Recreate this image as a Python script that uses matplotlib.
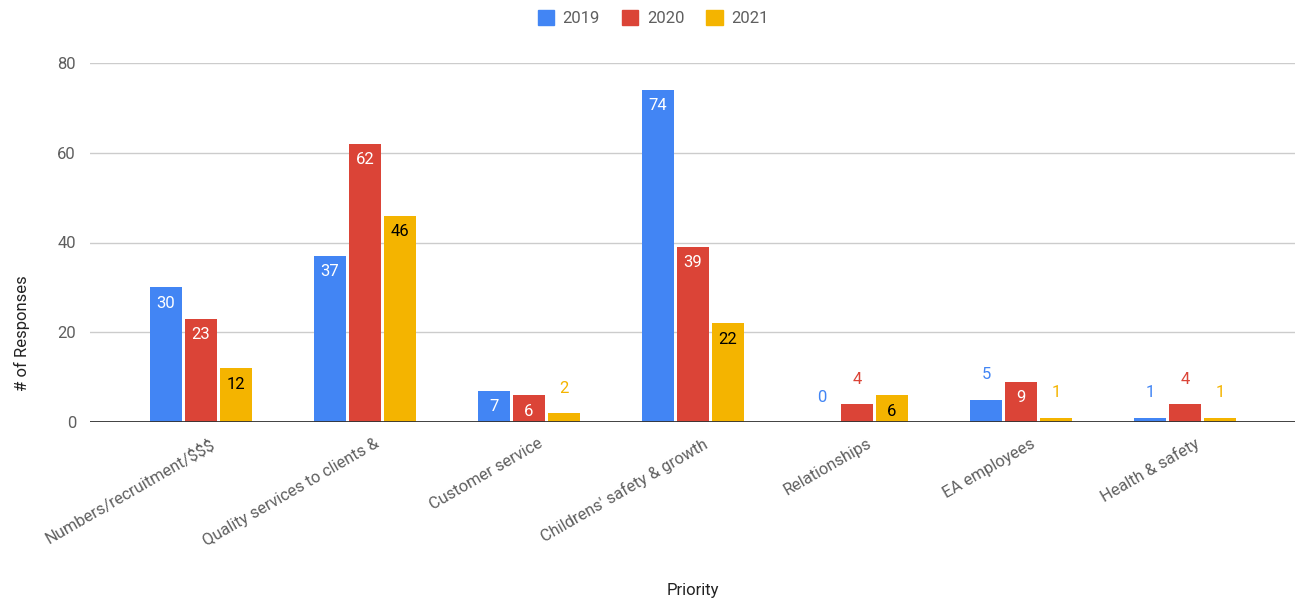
import matplotlib
matplotlib.use("Agg")
import matplotlib.pyplot as plt
import matplotlib.transforms as mtransforms
import numpy as np

categories = ["Numbers/recruitment/$$$", "Quality services to clients &", "Customer service",
              "Childrens' safety & growth", "Relationships", "EA employees", "Health & safety"]
series_names = ["2019", "2020", "2021"]
v2019 = [30, 37, 7, 74, 0, 5, 1]
v2020 = [23, 62, 6, 39, 4, 9, 4]
v2021 = [12, 46, 2, 22, 6, 1, 1]
yticks = [0, 20, 40, 60, 80]

colors = ["#4285f4", "#db4437", "#f4b400"]
inside_text = ["white", "white", "black"]

plt.rcParams['font.family'] = ['Roboto', 'DejaVu Sans']

fig = plt.figure(figsize=(13.01, 6.03), dpi=100)
W, H = 1301, 603
ax = fig.add_axes([90 / W, (H - 422) / H, (1295 - 90) / W, (422 - 63) / H])

x = np.arange(len(categories))
width = 0.195
offset = 0.213
for i, (vals, c) in enumerate(zip([v2019, v2020, v2021], colors)):
    pos = x + (i - 1) * offset
    bars = ax.bar(pos, vals, width, color=c, label=series_names[i], zorder=3)
    for b, v in zip(bars, vals):
        cx = b.get_x() + b.get_width() / 2
        if v >= 6:
            ax.annotate(str(v), (cx, v), xytext=(0, -11.5), textcoords="offset points",
                        ha="center", va="center", color=inside_text[i], fontsize=12, zorder=4)
        else:
            ax.annotate(str(v), (cx, v), xytext=(0, 18), textcoords="offset points",
                        ha="center", va="center", color=c, fontsize=12, zorder=4)

ax.set_xlim(-0.677, 6.67)
ax.set_ylim(0, 80)
ax.set_yticks(yticks)
ax.set_yticklabels([str(t) for t in yticks], color="#5f5f5f", fontsize=12)
ax.grid(axis="y", color="#cccccc", linewidth=1, zorder=0)
ax.axhline(0, color="#333333", linewidth=1.3, zorder=5)
for s in ax.spines.values():
    s.set_visible(False)
ax.tick_params(axis="both", length=0)
ax.tick_params(axis="y", pad=10)
ax.set_xticks(x)
ax.set_xticklabels(categories, rotation=30, ha="right", rotation_mode="anchor",
                   color="#5f5f5f", fontsize=11.8)
ax.tick_params(axis="x", pad=10)
shift = mtransforms.ScaledTranslation(9 / 100, 0, fig.dpi_scale_trans)
for lbl in ax.get_xticklabels():
    lbl.set_transform(lbl.get_transform() + shift)

fig.text(22 / W, 1 - 333 / H, "# of Responses", rotation=90, ha="center", va="center",
         color="#222222", fontsize=12)
fig.text(693 / W, 1 - 590 / H, "Priority", ha="center", va="center", color="#222222", fontsize=12)

from matplotlib.patches import Patch
handles = [Patch(facecolor=c, edgecolor=c) for c in colors]
leg = fig.legend(handles, series_names, loc="center", bbox_to_anchor=(653 / W, 1 - 18 / H),
                 ncol=3, frameon=False, fontsize=12, handlelength=1.0, handleheight=1.0,
                 columnspacing=1.3, handletextpad=0.5)
for t in leg.get_texts():
    t.set_color("#5f5f5f")

fig.savefig("out.png", dpi=100)
